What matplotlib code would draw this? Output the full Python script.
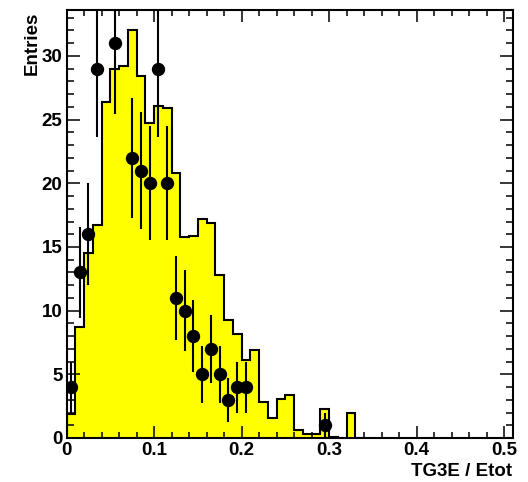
import numpy as np
import matplotlib.pyplot as plt

## histogram (0.01 wide bins from 0 to 0.34)
edges = np.round(np.arange(0, 0.35, 0.01), 2)
hist_vals = [1.9, 8.7, 14.5, 16.7, 26.4, 29.0, 29.2, 32.0, 28.4, 24.7,
             26.1, 25.9, 20.8, 15.8, 15.9, 17.2, 16.9, 12.8, 9.3, 8.2,
             6.1, 6.9, 2.8, 1.6, 3.1, 3.4, 0.65, 0.34, 0.34, 2.3,
             0.1, 0.03, 1.95, 0.0]

## data points
data_x = [0.005, 0.015, 0.025, 0.035, 0.055, 0.075, 0.085, 0.095, 0.105, 0.115,
          0.125, 0.135, 0.145, 0.155, 0.165, 0.175, 0.185, 0.195, 0.205, 0.295]
data_y = [4, 13, 16, 29, 31, 22, 21, 20, 29, 20,
          11, 10, 8, 5, 7, 5, 3, 4, 4, 1]
data_err = np.sqrt(data_y)

xticks = [0, 0.1, 0.2, 0.3, 0.4, 0.5]
xticklabels = ["0", "0.1", "0.2", "0.3", "0.4", "0.5"]
yticks = [0, 5, 10, 15, 20, 25, 30]

plt.rcParams['font.family'] = ['Liberation Sans', 'DejaVu Sans']
plt.rcParams['font.weight'] = 'bold'

fig = plt.figure(figsize=(5.28, 4.82), dpi=100)
ax = fig.add_axes([0.126, 0.0913, 0.9716 - 0.126, 0.979 - 0.0913])

ax.stairs(hist_vals, edges, fill=True, facecolor="#ffff00", edgecolor="black",
          linewidth=1.5, zorder=1)
ax.errorbar(data_x, data_y, yerr=data_err, fmt="o", color="black",
            markersize=8.6, elinewidth=1.5, capsize=0, zorder=3, clip_on=True)

ax.set_xlim(0, 0.51)
ax.set_ylim(0, 33.6)
ax.set_xticks(xticks)
ax.set_xticklabels(xticklabels)
ax.set_xticks(np.arange(0, 0.51, 0.02), minor=True)
ax.set_yticks(yticks)
ax.set_yticks(np.arange(0, 34, 1), minor=True)

ax.tick_params(which="both", direction="in", top=True, right=True,
               labelsize=13.5, width=1.1)
ax.tick_params(axis="x", which="major", length=8.6, pad=3)
ax.tick_params(axis="x", which="minor", length=4.5)
ax.tick_params(axis="y", which="major", length=9.4, pad=3)
ax.tick_params(axis="y", which="minor", length=4.8)
for s in ax.spines.values():
    s.set_linewidth(1.5)
    s.set_zorder(5)

fig.text(32 / 528, 1 - 12 / 482, "Entries", rotation=90, ha="center", va="top",
         fontsize=13.5, fontweight="bold")
fig.text(512 / 528, 1 - 472 / 482, "TG3E / Etot", ha="right", va="center",
         fontsize=13.5, fontweight="bold")

fig.savefig("out.png", dpi=100)
